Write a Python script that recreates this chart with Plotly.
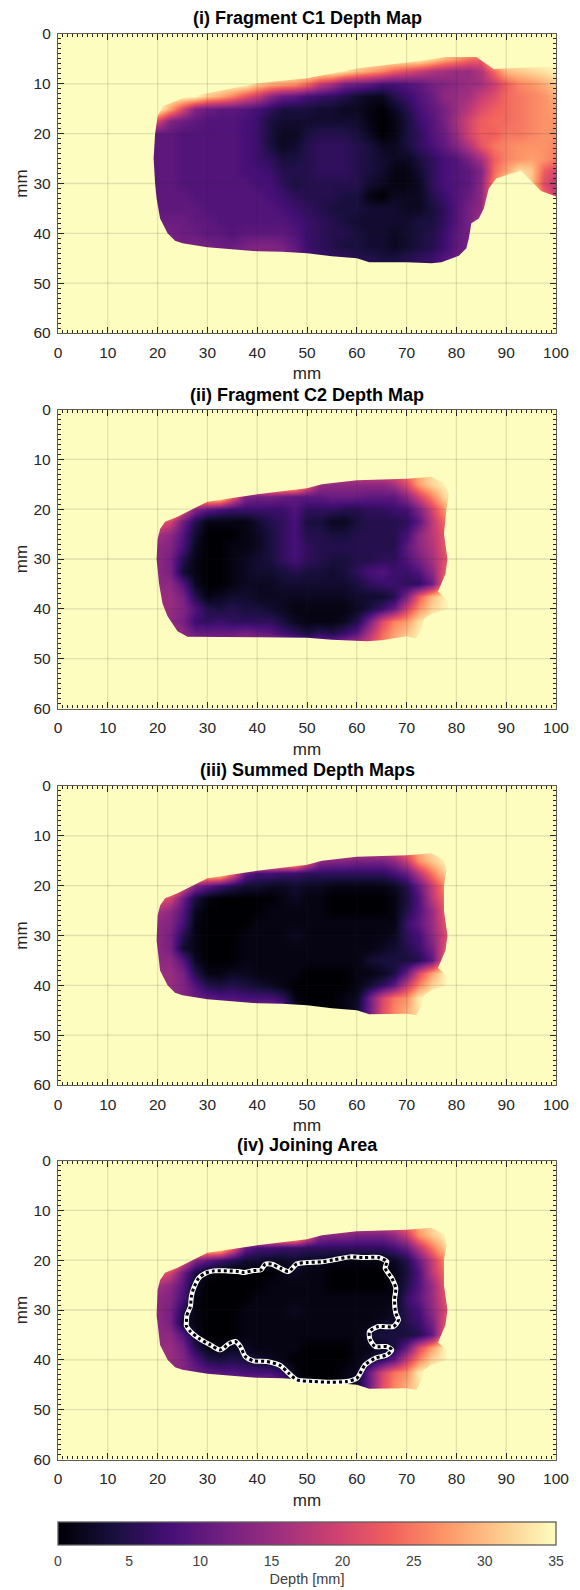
import plotly.graph_objects as go

# depth in mm, one base-36 character per cell (0-9, a=10 ... z=35)
GRID_X = [2.5 * i for i in range(41)]
GRID_Y = [2.5 * i for i in range(25)]
FIRST_COL = 7

FIRST_ROW_I = 2
DEPTH_I = [
    "zzzzzzzzzzzzzzzzzzzzzzzwtronzzzzzz",
    "zzzzzzzzzzzzzzzzxusqnljhgffhouvwxy",
    "zzzzzzzzzvtsrojgcba889acdefgjnqrtv",
    "zzzzzvtqmjeba8765322579befgjlopqrt",
    "zzskdbaa986444332210258acfilnopqrs",
    "qkdba9998743333333101479cgknoopqrr",
    "caa9999987422455542014" + "69bfknnppqrr",
    "aaa99999874235666542" + "2468adhmpqrrrq",
    "aaa99999876445666543" + "224689cgnqrsrp",
    "aaa99999887555666543" + "113689adosxvnk",
    "aaa99999988645555532" + "112689aeqzzvli",
    "aaaa9999998765554410" + "222579beqzzzoj",
    "aaaaa999999876544433" + "322469cezzzzzz",
    "bbbbaa99999987654333" + "334469cgzzzzzz",
    "cccbbaa9aaaa97655433" + "23457acgzzzzzz",
    "dddcccbbcddca7654433" + "23457acgzzzzzz",
    "ddddddddddddb8766554" + "45679bcczzzzzz",
    "ddddddddddddb8766554" + "45679bcczzzzzz",
]

FIRST_ROW_II = 5
DEPTH_II = [
    "zzzzzzzzzzzzzzznmmmmnqux",
    "zzzzzzzzzzzzzofeeeeeglswy",
    "zzzzzzzodccbaaabbbaaaekqw",
    "zzzmda8777779666556678dkr",
    "pnkb511113568442245556aio",
    "gge9300012468554455558eimp",
    "eed820011246865555555aehmp",
    "eec5100123468654455669cglp",
    "eec31001233454434689779emp",
    "eee92001222333333467766boq",
    "fffc51233222222223335dnuyz",
    "fffd9545443211111247bkrwyz",
    "ggec76766664211125clqsxzzz",
    "hhhebbbbcba864657ahosvyz",
    "hhhgeeefhikigfffhjlqux",
]

FIRST_ROW_III = 5
DEPTH_III = [
    "zzzzzzzzzzzzzzznmlllnqux",
    "zzzzzzzzzzzzzoeddcccejrvy",
    "zzzzzzzob887766666668bipv",
    "zzzmda7533223221111125bjq",
    "pnkb4100000121100000149io",
    "gge92000001111100000159fmp",
    "eed8100001111111111117aflp",
    "eec51000111121111111268ekp",
    "eec31000111111111112357clp",
    "eee92000111111111134445anq",
    "fffc51122111100001124blsyz",
    "fffd9545432100000136ajqwyz",
    "ggedba998886100012bkpryz",
    "ggggfeeeeeeb310013blqtxz",
    "ggggfeeeeeeb310013blqtxz",
]

FIRST_ROW_IV = FIRST_ROW_III
DEPTH_IV = DEPTH_III

# outer edge of each depth map, mm
EDGE_I_X = [19.5, 20, 21, 25, 30, 40, 50, 60, 70, 78, 84, 86, 87.5, 101, 101, 97, 95, 93, 91, 88, 86.5, 86, 85.5, 84.5, 83, 82.5, 82, 80.5, 77, 75, 70, 62.5, 60, 55, 50, 45, 40, 30, 25, 23.5, 22, 20.5, 19.8, 19.5, 19.2]
EDGE_I_Y = [20, 16.5, 14.5, 12.9, 11.9, 9.9, 8.9, 6.9, 5.7, 4.6, 4.6, 6, 7, 6.5, 33, 31.5, 29.5, 27.5, 28, 29, 31, 33, 35, 37, 38, 41, 43, 44.5, 45.8, 46, 45.8, 45.8, 45, 44.6, 44, 43.7, 43.6, 42.8, 42, 41.5, 40, 37, 33, 30, 25]
EDGE_II_X = [20, 20.5, 21.5, 24, 26, 29, 30, 40, 50, 53, 60, 70, 75, 77.5, 78.5, 78, 77.5, 78.2, 77.8, 76.3, 78, 78.5, 75, 73.5, 73, 72, 70, 65, 62, 55, 50, 40, 30, 26, 24, 22, 21, 20.3, 19.8]
EDGE_II_Y = [26, 24, 22.5, 21.5, 20.5, 19, 18.5, 17, 15.8, 15, 14.2, 13.9, 13.5, 14.8, 17, 20, 25, 30, 33, 36.5, 38, 40, 41, 42, 44, 46, 45.5, 46.3, 46.5, 46.2, 45.8, 45.7, 45.7, 45.6, 44.5, 41.5, 39, 35, 30]
EDGE_III_X = [20, 20.5, 21.5, 24, 26, 29, 30, 40, 50, 53, 60, 70, 75, 77.5, 78, 77.5, 77.5, 78.2, 77.8, 76.3, 78, 78, 75, 73.5, 73, 72, 70, 62.5, 60, 55, 50, 45, 40, 30, 25, 23.5, 22, 20.5, 19.8]
EDGE_III_Y = [26, 24, 22.5, 21.5, 20.5, 19, 18.5, 17, 15.8, 15, 14.2, 13.9, 13.5, 14.8, 17, 20, 25, 30, 33, 36.5, 38, 40, 41, 42, 44, 46, 45.7, 45.8, 45, 44.6, 44, 43.7, 43.6, 42.8, 42, 41.5, 40, 37, 31]

# joining-area boundary, mm
JOIN_X = [25.77, 25.9, 26.58, 26.78, 27.24, 28.25, 29.6, 31.26, 33.93, 36.27, 37.27, 39.28, 40.75, 41.62, 42.96, 44.63, 46.3, 47.97, 49.98, 52.99, 55.33, 58.67, 61.35, 64.36, 66.03, 65.69, 67.03, 67.83, 67.57, 67.83, 68.37, 67.36, 64.36, 62.55, 62.68, 63.69, 66.03, 67.03, 66.03, 63.69, 61.68, 60.01, 58.0, 54.66, 51.32, 47.97, 46.3, 44.63, 41.96, 39.28, 37.61, 36.61, 35.6, 34.27, 32.6, 30.59, 28.25, 26.58, 25.77, 25.77]
JOIN_Y = [32.65, 30.98, 29.3, 27.3, 25.63, 23.62, 22.62, 22.15, 22.15, 22.28, 22.48, 22.08, 21.95, 20.81, 20.81, 21.61, 22.28, 20.74, 20.48, 20.34, 19.94, 19.34, 19.47, 19.47, 20.27, 21.61, 23.62, 25.63, 27.97, 30.64, 31.98, 33.32, 33.32, 34.32, 36.0, 37.33, 37.33, 38.0, 39.0, 39.67, 41.0, 43.69, 44.35, 44.49, 44.35, 44.02, 42.68, 41.14, 40.34, 40.21, 39.34, 37.33, 36.33, 36.8, 38.0, 37.0, 35.66, 34.32, 33.18, 32.65]

TITLES = ["(i) Fragment C1 Depth Map", "(ii) Fragment C2 Depth Map", "(iii) Summed Depth Maps", "(iv) Joining Area"]
X_TICKS = list(range(0, 101, 10))
Y_TICKS = list(range(0, 61, 10))
BAR_TICKS = [0, 5, 10, 15, 20, 25, 30, 35]
BAR_MAX = 35
MASK_X = [-2, -2, 103, 103, -2]
MASK_Y = [-2, 62, 62, -2, -2]

PAPER = "#fcfdbf"
DARK = "#262626"
LINE = "#5c5c5c"
W, H = 580, 1590
L, R, T, B = 57.5, 556, 34, 1460
PANELS = [(34, 333, 18), (409.5, 708.5, 395), (786, 1085, 770), (1160.5, 1459.5, 1145)]
BAR_TOP, BAR_BOTTOM = 1521.5, 1544.5


def py(y):
    return 1 - (y - T) / (B - T)


def matrix(rows, first):
    out = []
    for k in range(len(GRID_Y)):
        if first <= k < first + len(rows):
            s = ("z" * FIRST_COL + rows[k - first]).ljust(len(GRID_X), "z")
        else:
            s = "z" * len(GRID_X)
        out.append([int(c, 36) for c in s])
    return out


maps = [
    (DEPTH_I, FIRST_ROW_I, EDGE_I_X, EDGE_I_Y),
    (DEPTH_II, FIRST_ROW_II, EDGE_II_X, EDGE_II_Y),
    (DEPTH_III, FIRST_ROW_III, EDGE_III_X, EDGE_III_Y),
    (DEPTH_IV, FIRST_ROW_IV, EDGE_III_X, EDGE_III_Y),
]

fig = go.Figure()
axis_common = dict(
    range=None, showline=True, linecolor=LINE, linewidth=1.3, mirror="ticks",
    ticks="inside", ticklen=6, tickwidth=1, tickcolor=DARK, showgrid=False, zeroline=False,
    tickfont=dict(family="Liberation Sans", size=15.5, color=DARK),
    minor=dict(dtick=1, ticks="inside", ticklen=3, tickwidth=1, tickcolor=DARK),
)
layout_axes = {}
shapes = []
annotations = []
for n, ((rows, first, ex, ey), (top, bottom, ty), title) in enumerate(zip(maps, PANELS, TITLES), 1):
    xname, yname = f"x{n if n > 1 else ''}", f"y{n if n > 1 else ''}"
    fig.add_trace(go.Heatmap(x=GRID_X, y=GRID_Y, z=matrix(rows, first), zsmooth="best",
                             coloraxis="coloraxis", xaxis=xname, yaxis=yname, hoverinfo="skip"))
    fig.add_trace(go.Scatter(x=MASK_X + [None] + ex + [ex[0]], y=MASK_Y + [None] + ey + [ey[0]],
                             mode="lines", line=dict(width=0), fill="toself", fillcolor=PAPER,
                             xaxis=xname, yaxis=yname, hoverinfo="skip", showlegend=False))
    if n == 4:
        fig.add_trace(go.Scatter(x=JOIN_X, y=JOIN_Y, mode="lines",
                                 line=dict(color="white", width=5, shape="spline", smoothing=0.7),
                                 xaxis=xname, yaxis=yname, hoverinfo="skip", showlegend=False))
        fig.add_trace(go.Scatter(x=JOIN_X, y=JOIN_Y, mode="lines",
                                 line=dict(color="black", width=3, shape="spline", smoothing=0.7, dash="3px,3px"),
                                 xaxis=xname, yaxis=yname, hoverinfo="skip", showlegend=False))
    xa = dict(axis_common)
    xa.update(range=[0, 100], domain=[0, 1], anchor=yname, tickvals=X_TICKS, ticklabelstandoff=5,
              title=dict(text="mm", standoff=7, font=dict(family="Liberation Sans", size=17, color=DARK)))
    ya = dict(axis_common)
    ya.update(range=[60, 0], domain=[py(bottom), py(top)], anchor=xname, tickvals=Y_TICKS, ticklabelstandoff=3,
              title=dict(text="mm", standoff=1, font=dict(family="Liberation Sans", size=17, color=DARK)))
    layout_axes["xaxis" + (str(n) if n > 1 else "")] = xa
    layout_axes["yaxis" + (str(n) if n > 1 else "")] = ya
    for v in X_TICKS[1:-1]:
        shapes.append(dict(type="line", xref=xname, yref=yname, x0=v, x1=v, y0=0, y1=60, layer="above",
                           line=dict(color="rgba(38,38,38,0.13)", width=1.3)))
    for v in Y_TICKS[1:-1]:
        shapes.append(dict(type="line", xref=xname, yref=yname, x0=0, x1=100, y0=v, y1=v, layer="above",
                           line=dict(color="rgba(38,38,38,0.13)", width=1.3)))
    annotations.append(dict(text=f"<b>{title}</b>", xref="paper", yref="paper", x=0.5, y=py(ty),
                            xanchor="center", yanchor="middle", showarrow=False,
                            font=dict(family="Liberation Sans", size=18, color="black")))

# short ticks inside the colour bar's lower edge
for v in BAR_TICKS[1:-1]:
    shapes.append(dict(type="line", xref="paper", yref="paper", x0=v / BAR_MAX, x1=v / BAR_MAX,
                       y0=py(BAR_BOTTOM), y1=py(BAR_BOTTOM - 5), layer="above",
                       line=dict(color=DARK, width=1)))

fig.update_layout(
    width=W, height=H, autosize=False, paper_bgcolor="white", plot_bgcolor=PAPER, showlegend=False,
    margin=dict(l=L, r=W - R, t=T, b=H - B, pad=0, autoexpand=False),
    shapes=shapes, annotations=annotations,
    coloraxis=dict(cmin=0, cmax=BAR_MAX, colorscale="Magma", colorbar=dict(
        orientation="h", x=0, xanchor="left", xref="paper", y=py(BAR_TOP), yanchor="top", yref="paper",
        len=1, lenmode="fraction", thickness=23, xpad=0, ypad=0,
        tickvals=BAR_TICKS, ticks="outside", ticklen=4, tickwidth=1, tickcolor="rgba(0,0,0,0)",
        outlinecolor=LINE, outlinewidth=1.3,
        tickfont=dict(family="Liberation Sans", size=14, color="#404040"),
        title=dict(text="Depth [mm]", side="bottom", font=dict(family="Liberation Sans", size=14.5, color="#404040")),
    )),
    **layout_axes,
)
fig.write_html("out.html", config=dict(displayModeBar=False), post_script="document.body.style.margin='0';")
